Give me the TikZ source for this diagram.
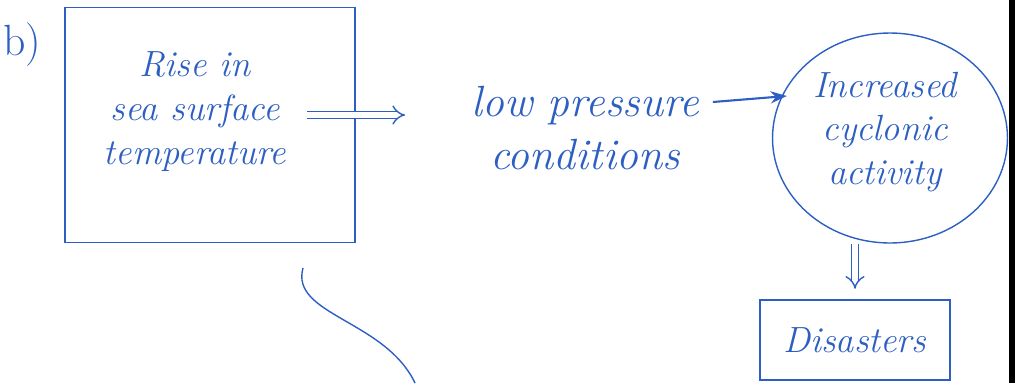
\documentclass[tikz,border=0pt]{standalone}
\usepackage{tikz}
\usetikzlibrary{shapes.geometric, arrows.meta, positioning, calc}
\definecolor{inkblue}{RGB}{45, 95, 195}

\begin{document}
\begin{tikzpicture}[
    x=0.02cm, y=-0.02cm, % pixel grid of the scan
    hand/.style={text=inkblue, font=\huge\itshape, align=center},
    sheet/.style={rectangle, draw=inkblue, thick, minimum width=5.8cm, minimum height=4.7cm},
    blob/.style={ellipse, draw=inkblue, thick, minimum width=4.7cm, minimum height=4.2cm},
    tag/.style={rectangle, draw=inkblue, thick, minimum width=3.8cm, minimum height=1.6cm},
    arrow/.style={-{Stealth[scale=1.1]}, very thick, inkblue},
    dblarrow/.style={double, double distance=3pt, -{Implies}, thick, inkblue},
]
\useasboundingbox (0,0) rectangle (1019,383);

% Label
\node[hand, font=\Huge] (lbl) at (22,45) {b)};

% Cause
\node[sheet] (riseb) at (210,125) {};
\node[hand] (rise) at (195,112) {Rise in\\sea surface\\temperature};

% Middle step
\node[hand, font=\Huge\itshape] (low) at (585,128) {low pressure\\conditions};

% Cyclones
\node[blob] (cyc) at (890,138) {};
\node[hand] (inc) at (885,132) {Increased\\cyclonic\\activity};

% Outcome
\node[tag] (dis) at (855,340) {};
\node[hand] (distxt) at (855,340) {Disasters};

% Flow
\coordinate (a0) at ($(rise.east)+(15,3)$);
\draw[dblarrow] (a0) -- ($(low.west |- a0)+(-60,0)$);
\draw[arrow] ($(low.east)+(8,-26)$) -- ($(cyc.west)+(15,-42)$);
\draw[dblarrow, shorten >=6pt] (dis.north |- cyc.south) -- (dis.north);

% Stray stroke
\coordinate (s0) at (303,268);
\coordinate (s1) at (415,383);
\draw[inkblue, thick] (s0) .. controls (290,315) and (385,320) .. (s1);

% Page edge
\draw[black, line width=3pt] (1012,0) -- (1012,383);

\end{tikzpicture}
\end{document}
